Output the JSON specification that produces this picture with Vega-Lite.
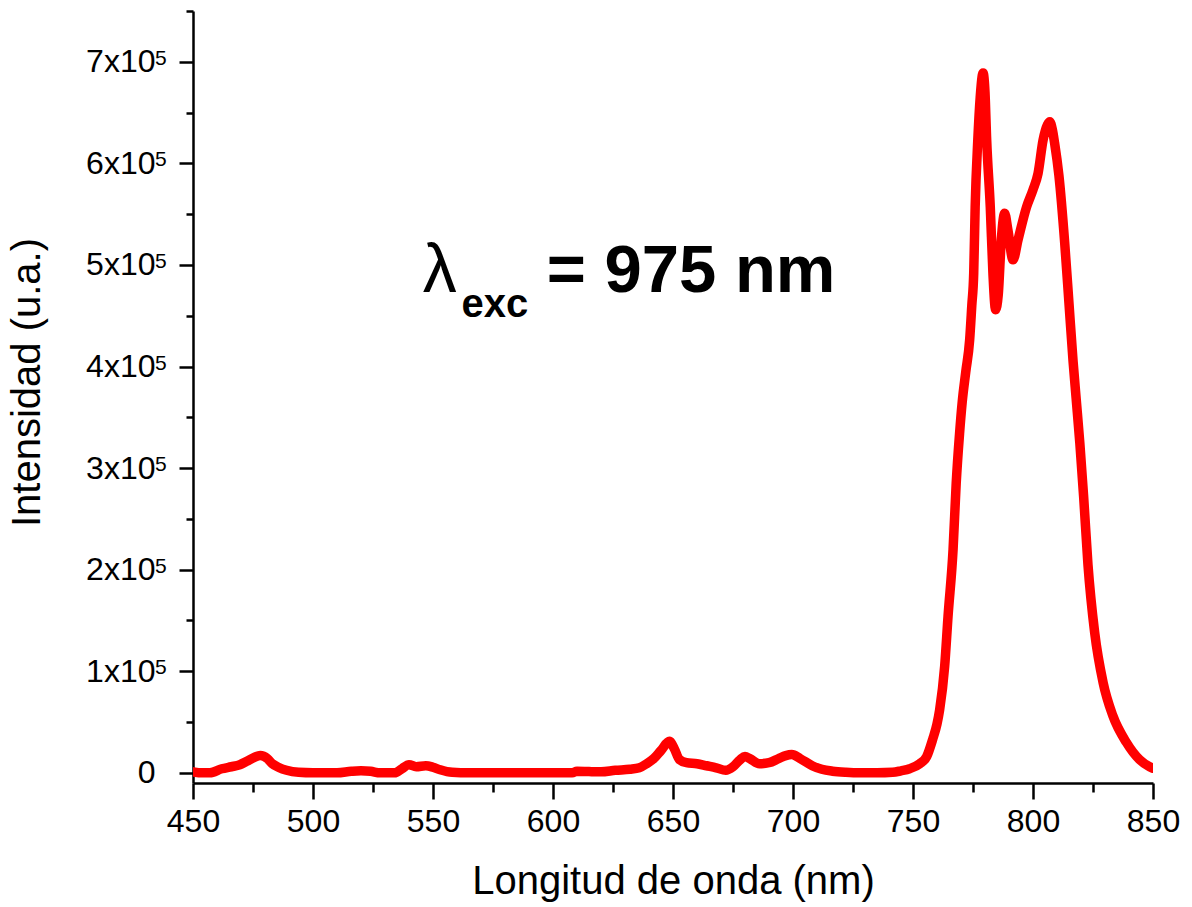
{
  "$schema": "https://vega.github.io/schema/vega-lite/v6.json",
  "width": 960,
  "height": 772,
  "autosize": {"type": "none"},
  "padding": {"left": 193, "top": 11, "right": 39, "bottom": 124},
  "background": "white",
  "config": {
    "view": {"stroke": null},
    "font": "Liberation Sans"
  },
  "datasets": {
    "spectrum": [
      {"wl": 450, "i": 1000}, {"wl": 454, "i": 0}, {"wl": 457, "i": 0}, {"wl": 462, "i": 4000},
      {"wl": 466, "i": 6000}, {"wl": 469.5, "i": 8000}, {"wl": 473, "i": 12000}, {"wl": 478, "i": 17000},
      {"wl": 481, "i": 14000}, {"wl": 483, "i": 9000}, {"wl": 486, "i": 5000}, {"wl": 489, "i": 2500},
      {"wl": 494, "i": 500}, {"wl": 500, "i": 0}, {"wl": 510, "i": 0}, {"wl": 516, "i": 1500},
      {"wl": 520, "i": 2000}, {"wl": 524, "i": 1500}, {"wl": 528, "i": 0}, {"wl": 534, "i": 0},
      {"wl": 537, "i": 4000}, {"wl": 540, "i": 8000}, {"wl": 543, "i": 6000}, {"wl": 547, "i": 7000},
      {"wl": 550, "i": 5500}, {"wl": 553, "i": 3000}, {"wl": 558, "i": 500}, {"wl": 565, "i": 0},
      {"wl": 600, "i": 0}, {"wl": 608, "i": 0}, {"wl": 610, "i": 1500}, {"wl": 615, "i": 1200},
      {"wl": 620, "i": 1000}, {"wl": 626, "i": 2500}, {"wl": 632, "i": 3500}, {"wl": 636, "i": 5000},
      {"wl": 639, "i": 9000}, {"wl": 642, "i": 14000}, {"wl": 645, "i": 22000}, {"wl": 648.5, "i": 31000},
      {"wl": 650.5, "i": 24000}, {"wl": 652.7, "i": 13000}, {"wl": 655.6, "i": 10000}, {"wl": 660, "i": 9000},
      {"wl": 664, "i": 7000}, {"wl": 668, "i": 5000}, {"wl": 672, "i": 2500}, {"wl": 675, "i": 6000},
      {"wl": 678, "i": 13000}, {"wl": 680, "i": 16000}, {"wl": 682, "i": 14000}, {"wl": 686, "i": 9000},
      {"wl": 690, "i": 10000}, {"wl": 694, "i": 14000}, {"wl": 697, "i": 17000}, {"wl": 699.5, "i": 18000},
      {"wl": 703, "i": 14000}, {"wl": 708, "i": 7000}, {"wl": 712, "i": 3500}, {"wl": 716.5, "i": 1600},
      {"wl": 722, "i": 500}, {"wl": 728, "i": 0}, {"wl": 735, "i": 0}, {"wl": 741.5, "i": 500},
      {"wl": 745, "i": 2000}, {"wl": 748.6, "i": 4000}, {"wl": 752.8, "i": 9000}, {"wl": 755.7, "i": 16000},
      {"wl": 758.2, "i": 33000}, {"wl": 760, "i": 48000}, {"wl": 761.1, "i": 62000}, {"wl": 763.2, "i": 105000},
      {"wl": 764.6, "i": 154000}, {"wl": 766.7, "i": 220000}, {"wl": 768, "i": 285000}, {"wl": 769.4, "i": 334000},
      {"wl": 770.5, "i": 365000}, {"wl": 772, "i": 395000}, {"wl": 773.6, "i": 426000}, {"wl": 774.5, "i": 460000},
      {"wl": 775.3, "i": 492000}, {"wl": 775.9, "i": 557000}, {"wl": 777, "i": 623000}, {"wl": 778, "i": 665000},
      {"wl": 779.2, "i": 689000}, {"wl": 780, "i": 670000}, {"wl": 780.7, "i": 623000}, {"wl": 782.2, "i": 557000},
      {"wl": 783.3, "i": 492000}, {"wl": 784.4, "i": 456000}, {"wl": 785.5, "i": 470000}, {"wl": 786.8, "i": 525000},
      {"wl": 788.2, "i": 551000}, {"wl": 789.5, "i": 535000}, {"wl": 791.7, "i": 505000}, {"wl": 793.8, "i": 525000},
      {"wl": 797.3, "i": 557000}, {"wl": 800, "i": 574000}, {"wl": 802.1, "i": 590000}, {"wl": 804.2, "i": 623000},
      {"wl": 806, "i": 638000}, {"wl": 807, "i": 641000}, {"wl": 808, "i": 634000}, {"wl": 809, "i": 620000},
      {"wl": 810.8, "i": 588000}, {"wl": 813.2, "i": 522000}, {"wl": 815, "i": 462000}, {"wl": 816.7, "i": 405000},
      {"wl": 818, "i": 368000}, {"wl": 819.5, "i": 325000}, {"wl": 821.1, "i": 272000}, {"wl": 822.9, "i": 205000},
      {"wl": 825.7, "i": 138000}, {"wl": 829.2, "i": 89000}, {"wl": 833.3, "i": 56000}, {"wl": 838.9, "i": 30000},
      {"wl": 844.4, "i": 13000}, {"wl": 848.6, "i": 6000}, {"wl": 850, "i": 4500}
    ],
    "powers": [
      {"i": 100000, "p": "5"}, {"i": 200000, "p": "5"}, {"i": 300000, "p": "5"}, {"i": 400000, "p": "5"},
      {"i": 500000, "p": "5"}, {"i": 600000, "p": "5"}, {"i": 700000, "p": "5"}
    ]
  },
  "layer": [
    {
      "data": {"name": "spectrum"},
      "mark": {"type": "line", "color": "#ff0000", "strokeWidth": 9.5, "interpolate": "monotone", "strokeJoin": "round", "strokeCap": "round", "clip": true},
      "encoding": {
        "x": {
          "field": "wl", "type": "quantitative",
          "scale": {"domain": [450, 850], "nice": false, "zero": false},
          "axis": {
            "title": "Longitud de onda (nm)",
            "titleFont": "Liberation Sans", "titleFontSize": 40, "titleFontWeight": "normal", "titleColor": "black",
            "titlePadding": 24,
            "values": [450, 475, 500, 525, 550, 575, 600, 625, 650, 675, 700, 725, 750, 775, 800, 825, 850],
            "labelExpr": "datum.value % 50 === 0 ? datum.label : ''",
            "labelFont": "Liberation Sans", "labelFontSize": 32, "labelColor": "black", "labelPadding": 7,
            "labelFlush": false, "labelOverlap": false,
            "tickSize": {"condition": {"test": "datum.value % 50 === 0", "value": 16}, "value": 9},
            "tickColor": "black", "tickWidth": 2.5,
            "domainColor": "black", "domainWidth": 2.5,
            "grid": false, "format": "d"
          }
        },
        "y": {
          "field": "i", "type": "quantitative",
          "scale": {"domain": [-10000, 750000], "nice": false, "zero": false},
          "axis": {
            "title": "Intensidad (u.a.)",
            "titleFont": "Liberation Sans", "titleFontSize": 40, "titleFontWeight": "normal", "titleColor": "black",
            "titlePadding": 38, "titleY": 371,
            "values": [0, 50000, 100000, 150000, 200000, 250000, 300000, 350000, 400000, 450000, 500000, 550000, 600000, 650000, 700000, 750000],
            "labelExpr": "datum.value === 0 ? '0' : (datum.value % 100000 === 0 ? (datum.value / 100000) + 'x10' : '')",
            "labelFont": "Liberation Sans", "labelFontSize": 32, "labelColor": "black", "labelPadding": 24,
            "labelFlush": false, "labelOverlap": false,
            "tickSize": {"condition": {"test": "datum.value % 100000 === 0", "value": 14}, "value": 7},
            "tickColor": "black", "tickWidth": 2.5,
            "domainColor": "black", "domainWidth": 2.5,
            "grid": false
          }
        }
      }
    },
    {
      "data": {"name": "powers"},
      "mark": {"type": "text", "align": "left", "baseline": "top", "font": "Liberation Sans", "fontSize": 21, "color": "black", "dx": -38, "dy": -14, "clip": false},
      "encoding": {
        "x": {"datum": 450, "type": "quantitative"},
        "y": {"field": "i", "type": "quantitative"},
        "text": {"field": "p"}
      }
    },
    {
      "data": {"values": [{"wl": 545.7, "i": 473000, "t": "λ"}]},
      "mark": {"type": "text", "align": "left", "baseline": "alphabetic", "font": "Liberation Sans", "fontSize": 68, "fontWeight": "normal", "color": "black"},
      "encoding": {
        "x": {"field": "wl", "type": "quantitative"},
        "y": {"field": "i", "type": "quantitative"},
        "text": {"field": "t"}
      }
    },
    {
      "data": {"values": [{"wl": 561.9, "i": 449000, "t": "exc"}]},
      "mark": {"type": "text", "align": "left", "baseline": "alphabetic", "font": "Liberation Sans", "fontSize": 40, "fontWeight": "bold", "color": "black"},
      "encoding": {
        "x": {"field": "wl", "type": "quantitative"},
        "y": {"field": "i", "type": "quantitative"},
        "text": {"field": "t"}
      }
    },
    {
      "data": {"values": [{"wl": 597.4, "i": 473600, "t": "= 975 nm"}]},
      "mark": {"type": "text", "align": "left", "baseline": "alphabetic", "font": "Liberation Sans", "fontSize": 67, "fontWeight": "bold", "color": "black"},
      "encoding": {
        "x": {"field": "wl", "type": "quantitative"},
        "y": {"field": "i", "type": "quantitative"},
        "text": {"field": "t"}
      }
    }
  ]
}
